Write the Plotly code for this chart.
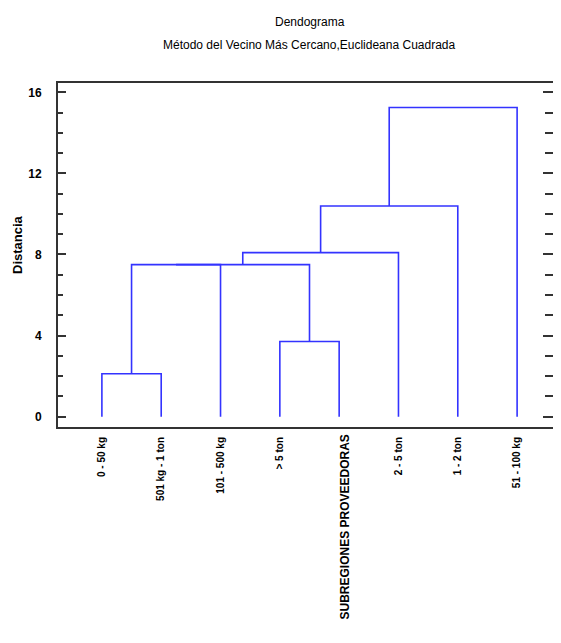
import plotly.graph_objects as go

# ---- data ----
leaf_labels = ["0 - 50 kg", "501 kg - 1 ton", "101 - 500 kg", "> 5 ton", "",
               "2 - 5 ton", "1 - 2 ton", "51 - 100 kg"]
# merges: (left node, right node, distance); nodes 0..7 are leaves, 8.. are clusters
merge_left = [0, 3, 8, 10, 11, 12, 13]
merge_right = [1, 4, 2, 9, 5, 6, 7]
merge_height = [2.12, 3.71, 7.5, 7.5, 8.09, 10.39, 15.25]
y_ticks = [0, 4, 8, 12, 16]

title1 = "Dendograma"
title2 = "Método del Vecino Más Cercano,Euclideana Cuadrada"
x_title = "SUBREGIONES PROVEEDORAS"
y_title = "Distancia"

# ---- build dendrogram links ----
n = len(leaf_labels)
pos = {i: i + 1 for i in range(n)}
hgt = {i: 0.0 for i in range(n)}
xs, ys = [], []
for k, (a, b, h) in enumerate(zip(merge_left, merge_right, merge_height)):
    node = n + k
    xs += [pos[a], pos[a], pos[b], pos[b], None]
    ys += [hgt[a], h, h, hgt[b], None]
    pos[node] = (pos[a] + pos[b]) / 2
    hgt[node] = h

fig = go.Figure()
fig.add_trace(go.Scatter(x=xs, y=ys, mode="lines",
                         line=dict(color="#3333ff", width=1.6),
                         hoverinfo="skip", showlegend=False))
fig.add_trace(go.Scatter(x=[1], y=[0], yaxis="y2", mode="markers",
                         marker=dict(opacity=0), hoverinfo="skip", showlegend=False))

sans = "Liberation Sans, Arial, sans-serif"
yrange = [-0.51, 16.46]

# page has an 8px body margin; keep the figure inside the 561x643 window
W, H = 553, 627
L, R, T, B = 50, 0, 75, 208
plot_w = W - L - R
plot_h = H - T - B


def px_x(x):  # figure pixel -> paper x
    return (x - L) / plot_w


def px_y(y):  # figure pixel -> paper y
    return (H - B - y) / plot_h


fig.update_layout(
    width=W, height=H,
    margin=dict(l=L, r=R, t=T, b=B, autoexpand=False),
    paper_bgcolor="white", plot_bgcolor="white",
    xaxis=dict(range=[0.26, 8.74], tickmode="array",
               tickvals=list(range(1, n + 1)), ticktext=leaf_labels,
               tickangle=-90, ticks="", showgrid=False, zeroline=False,
               showline=True, linecolor="#333333", linewidth=2, mirror=True,
               tickfont=dict(family=sans, size=10, color="black", weight="bold"),
               ticklabelstandoff=4),
    yaxis=dict(range=yrange, tickmode="array", tickvals=y_ticks,
               ticks="inside", ticklen=8, tickwidth=2, tickcolor="#333333",
               minor=dict(dtick=1, ticks="inside", ticklen=5, tickwidth=2,
                          tickcolor="#333333", showgrid=False),
               showgrid=False, zeroline=False,
               showline=True, linecolor="#333333", linewidth=2,
               tickfont=dict(family=sans, size=12, color="black", weight="bold"),
               ticklabelstandoff=12),
    yaxis2=dict(range=yrange, overlaying="y", side="right", tickmode="array",
                tickvals=y_ticks, ticks="inside", ticklen=18, tickwidth=2,
                tickcolor="#333333",
                minor=dict(dtick=1, ticks="inside", ticklen=16, tickwidth=2,
                           tickcolor="#333333", showgrid=False),
                showticklabels=False, showgrid=False, zeroline=False,
                showline=False),
    annotations=[
        dict(text=title1, x=0.5, y=px_y(14), xref="paper", yref="paper",
             yanchor="middle", showarrow=False,
             font=dict(family=sans, size=12, color="black")),
        dict(text=title2, x=0.5, y=px_y(37), xref="paper", yref="paper",
             yanchor="middle", showarrow=False,
             font=dict(family=sans, size=12, color="black")),
        dict(text=x_title, x=px_x(336), y=-6 / plot_h, xref="paper", yref="paper",
             xanchor="center", yanchor="top", textangle=-90, showarrow=False,
             font=dict(family=sans, size=12, color="black", weight="bold")),
        dict(text=y_title, x=px_x(10), y=px_y(237), xref="paper", yref="paper",
             xanchor="center", yanchor="middle", textangle=-90, showarrow=False,
             font=dict(family=sans, size=13, color="black", weight="bold")),
    ],
)

fig.write_html("out.html")
